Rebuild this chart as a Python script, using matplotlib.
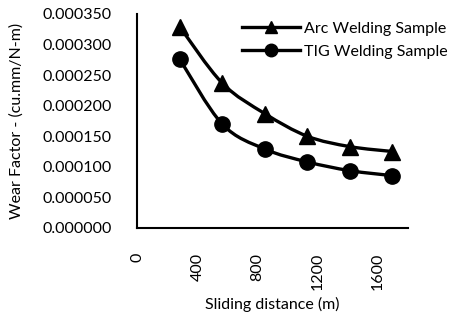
"""
plot.py
=======
Wear factor vs sliding distance for the arc and TIG welded samples.
Lines are drawn as smooth Bezier curves through the measured points,
the way a spreadsheet "smoothed line" chart does.
"""

import matplotlib
matplotlib.use("Agg")  # headless
import matplotlib.pyplot as plt
from matplotlib.path import Path
from matplotlib.patches import PathPatch
from matplotlib.lines import Line2D
from matplotlib.ticker import FuncFormatter

# sliding distance (m)
distance = [283, 565, 848, 1130, 1413, 1696]
# wear factor (cu.mm/N-m)
arc_wear = [0.000329, 0.000237, 0.000187, 0.000150, 0.000133, 0.000125]
tig_wear = [0.000276, 0.000170, 0.000129, 0.000108, 0.0000937, 0.0000855]

x_ticks = [0, 400, 800, 1200, 1600]
y_ticks = [0.0, 0.00005, 0.0001, 0.00015, 0.0002, 0.00025, 0.0003, 0.00035]

plt.rcParams["font.family"] = ["Lato", "DejaVu Sans"]
FS = 11.5


def smooth_path(xs, ys):
    """Catmull-Rom style cubic Bezier path through the points."""
    pts = list(zip(xs, ys))
    verts = [pts[0]]
    codes = [Path.MOVETO]
    n = len(pts)
    for i in range(n - 1):
        p0 = pts[max(i - 1, 0)]
        p1 = pts[i]
        p2 = pts[i + 1]
        p3 = pts[min(i + 2, n - 1)]
        c1 = (p1[0] + (p2[0] - p0[0]) / 6, p1[1] + (p2[1] - p0[1]) / 6)
        c2 = (p2[0] - (p3[0] - p1[0]) / 6, p2[1] - (p3[1] - p1[1]) / 6)
        verts += [c1, c2, p2]
        codes += [Path.CURVE4] * 3
    return Path(verts, codes)


fig = plt.figure(figsize=(4.51, 3.17), dpi=100)
ax = fig.add_axes([0.304, 0.281, 0.601, 0.675])

for ys, marker in [(arc_wear, "^"), (tig_wear, "o")]:
    ax.add_patch(PathPatch(smooth_path(distance, ys), facecolor="none",
                           edgecolor="black", linewidth=2.4, zorder=2))
    ax.plot(distance, ys, linestyle="none", marker=marker, markersize=11,
            color="black", zorder=3)

ax.set_xlim(0, 1800)
ax.set_ylim(0, 0.00035)
ax.set_xticks(x_ticks)
ax.set_yticks(y_ticks)
ax.yaxis.set_major_formatter(FuncFormatter(lambda v, _: f"{v:.6f}"))
ax.tick_params(length=0, labelsize=FS, colors="black", pad=18)
plt.setp(ax.get_xticklabels(), rotation=90, va="top")

for side in ("top", "right"):
    ax.spines[side].set_visible(False)
for side in ("left", "bottom"):
    ax.spines[side].set_linewidth(1.5)
    ax.spines[side].set_color("black")

ax.set_xlabel("Sliding distance (m)", fontsize=FS, labelpad=5)
ax.set_ylabel("Wear Factor - (cu.mm/N-m)", fontsize=FS, labelpad=14)

handles = [
    Line2D([], [], color="black", linewidth=2.4, marker="^", markersize=9),
    Line2D([], [], color="black", linewidth=2.4, marker="o", markersize=9),
]
ax.legend(handles, ["Arc Welding Sample", "TIG Welding Sample"],
          loc="upper left", bbox_to_anchor=(0.387, 0.965), frameon=False,
          borderaxespad=0, borderpad=0, fontsize=FS, handlelength=3.6,
          handletextpad=0.3, labelspacing=0.55)

fig.savefig("out.png", dpi=100)
plt.close(fig)
